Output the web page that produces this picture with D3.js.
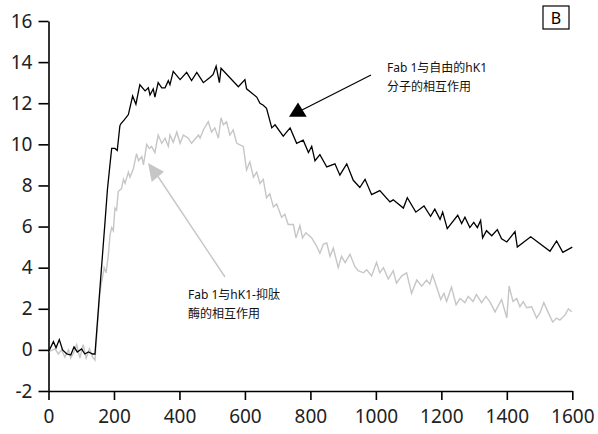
<html>
<head>
<meta charset="utf-8">
<script src="https://d3js.org/d3.v7.min.js"></script>
<style>
  body { margin: 0; background: #fff; }
  svg { display: block; }
</style>
</head>
<body>
<svg id="plot" width="598" height="434"></svg>
<script>
  // Data (time, response)
  const freeTime = [0,15,23,33,43,56,68,78,88,101,111,122,135,142,160,173,180,188,193,203,210,218,221,232,244,257,267,279,295,305,310,320,325,335,346,356,366,371,381,402,422,437,453,473,493,503,512,522,527,580,600,605,636,646,656,666,682,692,717,738,758,778,794,804,814,829,850,875,890,911,931,951,967,987,1012,1043,1053,1084,1096,1122,1147,1167,1180,1196,1204,1218,1250,1262,1272,1287,1299,1310,1320,1326,1338,1354,1371,1384,1400,1425,1432,1473,1532,1552,1571,1600];
  const freeValue = [-0.1,0.4,0.1,0.5,0.0,-0.2,-0.25,0.15,-0.1,0.05,-0.2,-0.1,-0.2,-0.2,3.6,6.3,7.8,9.05,9.8,9.8,9.7,10.9,11.0,11.2,11.45,12.35,11.95,12.9,12.6,12.75,12.4,12.7,12.3,13.0,12.75,12.75,13.1,12.9,13.55,13.15,13.5,13.1,13.5,13.0,13.25,13.4,13.8,13.0,13.7,12.8,13.15,12.7,12.3,12.0,11.9,11.75,10.8,10.95,10.4,10.8,10.05,10.2,9.6,9.9,9.2,9.5,8.9,9.05,8.5,9.05,8.25,7.9,8.3,7.55,7.75,7.2,7.3,6.9,7.4,6.7,7.0,6.5,6.85,6.35,6.7,5.9,6.55,6.15,6.45,5.95,6.2,5.95,6.3,5.45,5.8,5.55,5.85,5.4,5.25,5.75,5.0,5.5,4.8,5.3,4.75,5.0];

  const inhibTime = [0,20,30,40,50,61,68,78,86,96,106,115,125,135,142,157,170,176,183,188,193,198,203,208,213,223,229,234,244,249,259,269,275,285,290,300,308,315,325,335,346,356,366,371,381,392,402,412,427,437,458,463,473,488,498,508,519,527,534,544,554,564,575,595,605,615,626,636,646,656,666,676,687,697,712,722,732,748,756,768,776,786,804,819,829,840,850,860,870,885,895,906,921,936,946,962,972,987,1002,1012,1023,1038,1053,1063,1079,1094,1109,1125,1140,1155,1165,1173,1185,1198,1208,1216,1231,1245,1257,1272,1282,1297,1307,1323,1336,1348,1364,1384,1400,1407,1419,1430,1440,1450,1461,1476,1491,1501,1513,1527,1540,1552,1562,1578,1588,1598];
  const inhibValue = [-0.1,0.05,-0.2,0.0,-0.35,0.0,-0.4,-0.1,0.25,-0.4,0.25,-0.4,0.05,-0.35,-0.5,2.8,4.0,3.75,4.65,5.6,5.95,5.8,6.9,6.8,7.7,7.85,8.3,8.1,8.65,8.4,8.8,9.55,9.2,9.4,9.0,10.0,9.8,9.9,9.6,10.45,10.05,10.3,9.9,10.45,10.1,10.6,10.05,10.45,10.3,10.05,10.45,10.3,10.7,11.1,10.6,10.8,10.3,11.3,10.95,11.1,10.45,10.7,10.05,9.9,8.75,9.15,8.4,8.65,8.1,8.3,7.4,7.6,6.95,7.1,6.45,6.6,6.1,6.1,5.45,6.05,5.45,5.7,5.45,5.05,4.7,5.15,5.2,4.55,4.95,4.0,4.55,4.25,4.65,4.05,3.85,3.75,3.9,3.6,4.25,3.75,4.0,3.45,3.85,3.25,3.6,3.75,2.75,3.4,3.1,3.4,3.2,3.65,3.1,2.45,2.75,2.35,3.05,2.2,2.5,2.3,2.6,2.35,2.7,2.3,2.6,2.35,1.85,2.45,1.55,3.1,2.35,2.5,2.1,2.35,2.05,2.1,1.55,1.8,2.3,1.8,1.35,1.55,1.45,1.7,2.0,1.85];

  const xTicks = [0,200,400,600,800,1000,1200,1400,1600];
  const yTicks = [-2,0,2,4,6,8,10,12,14,16];
  const freeLabel = ["Fab 1与自由的hK1", "分子的相互作用"];
  const inhibLabel = ["Fab 1与hK1-抑肽", "酶的相互作用"];
  const panelLabel = "B";

  const svg = d3.select("#plot");
  const font = "'Noto Sans', 'Noto Sans CJK SC', sans-serif";
  const plain = function (d) { return String(d); };

  const x = d3.scaleLinear().domain([0, 1600]).range([48.5, 572.3]);
  const y = d3.scaleLinear().domain([-2, 16]).range([391, 21]);

  // Axes
  const xAxis = svg.append("g")
    .attr("transform", "translate(0," + y(-2) + ")")
    .call(d3.axisBottom(x).tickValues(xTicks).tickFormat(plain)
      .tickSize(9).tickSizeOuter(0).tickPadding(10));
  const yAxis = svg.append("g")
    .attr("transform", "translate(" + x(0) + ",0)")
    .call(d3.axisLeft(y).tickValues(yTicks).tickFormat(plain)
      .tickSize(10).tickSizeOuter(0).tickPadding(6));

  [xAxis, yAxis].forEach(function (a) {
    a.select(".domain").attr("stroke", "#000").attr("stroke-width", 1.6);
    a.selectAll(".tick line").attr("stroke", "#000").attr("stroke-width", 1.6);
    a.selectAll(".tick text")
      .attr("fill", "#222")
      .style("font-family", font)
      .style("font-size", "19px");
  });

  // Lines
  const line = d3.line()
    .x(function (d) { return x(d[0]); })
    .y(function (d) { return y(d[1]); });

  svg.append("path")
    .datum(d3.zip(inhibTime, inhibValue))
    .attr("fill", "none")
    .attr("stroke", "#c6c6c6")
    .attr("stroke-width", 1.4)
    .attr("d", line);

  svg.append("path")
    .datum(d3.zip(freeTime, freeValue))
    .attr("fill", "none")
    .attr("stroke", "#000")
    .attr("stroke-width", 1.3)
    .attr("d", line);

  // Annotations
  svg.append("line")
    .attr("x1", 371).attr("y1", 75).attr("x2", 302).attr("y2", 110)
    .attr("stroke", "#000").attr("stroke-width", 1.2);
  svg.append("polygon")
    .attr("points", "298,102.5 289,116.7 306.7,116.7")
    .attr("fill", "#000");

  svg.append("line")
    .attr("x1", 225).attr("y1", 277).attr("x2", 157).attr("y2", 175)
    .attr("stroke", "#c6c6c6").attr("stroke-width", 1.4);
  svg.append("polygon")
    .attr("points", "148,163 151.7,182 164,171.7")
    .attr("fill", "#c6c6c6");

  svg.append("g").selectAll("text")
    .data(freeLabel).enter()
    .append("text")
    .attr("x", 387)
    .attr("y", function (d, i) { return 72 + i * 19; })
    .style("font-family", font)
    .style("font-size", "12px")
    .attr("fill", "#111")
    .text(function (d) { return d; });

  svg.append("g").selectAll("text")
    .data(inhibLabel).enter()
    .append("text")
    .attr("x", 188)
    .attr("y", function (d, i) { return 299 + i * 18.5; })
    .style("font-family", font)
    .style("font-size", "12px")
    .attr("fill", "#111")
    .text(function (d) { return d; });

  // Panel label
  svg.append("rect")
    .attr("x", 543).attr("y", 6).attr("width", 26).attr("height", 23)
    .attr("fill", "none").attr("stroke", "#000").attr("stroke-width", 1.2);
  svg.append("text")
    .attr("x", 556).attr("y", 24)
    .attr("text-anchor", "middle")
    .style("font-family", font)
    .style("font-size", "16px")
    .text(panelLabel);
</script>
</body>
</html>
